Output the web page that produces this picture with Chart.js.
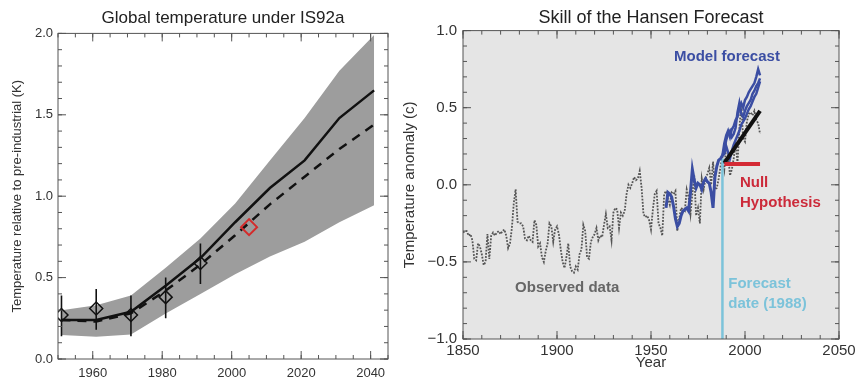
<!DOCTYPE html>
<html>
<head>
<meta charset="utf-8">
<script src="https://cdn.jsdelivr.net/npm/chart.js@4.4.1/dist/chart.umd.min.js"></script>
<style>
  body { margin: 0; background: #fff; }
  #wrap { position: relative; width: 855px; height: 385px; overflow: hidden; }
  canvas { position: absolute; top: 0; }
</style>
</head>
<body>
<div id="wrap">
  <canvas id="left" width="398" height="385" style="left:0"></canvas>
  <canvas id="right" width="457" height="385" style="left:398px"></canvas>
</div>
<script>
// --- left panel: IS92a projection, decadal values ---
const projYears  = [1951, 1961, 1971, 1981, 1991, 2001, 2011, 2021, 2031, 2041];
const bandHigh   = [0.30, 0.33, 0.39, 0.56, 0.74, 0.955, 1.22, 1.48, 1.77, 1.99];
const bandLow    = [0.147, 0.137, 0.15, 0.28, 0.40, 0.52, 0.63, 0.72, 0.84, 0.945];
const solidLine  = [0.24, 0.24, 0.29, 0.45, 0.62, 0.84, 1.05, 1.22, 1.48, 1.65];
const dashedLine = [0.24, 0.23, 0.28, 0.42, 0.58, 0.76, 0.95, 1.12, 1.29, 1.44];

// decadal observations with error bars
const obsYears = [1951, 1961, 1971, 1981, 1991];
const obsMean  = [0.27, 0.31, 0.27, 0.38, 0.59];
const obsLow   = [0.14, 0.18, 0.14, 0.25, 0.46];
const obsHigh  = [0.39, 0.43, 0.39, 0.50, 0.71];

// recent value (red diamond)
const recentYear  = [2005];
const recentValue = [0.81];

const leftXTicks = [1960, 1980, 2000, 2020, 2040];

// --- right panel: skill of the Hansen forecast ---
const observedStart = 1850;
const observed = [
  -0.31, -0.30, -0.30, -0.33, -0.32, -0.36, -0.48, -0.49, -0.38, -0.40,
  -0.45, -0.52, -0.50, -0.32, -0.48, -0.33, -0.31, -0.33, -0.31, -0.30,
  -0.32, -0.30, -0.29, -0.33, -0.41, -0.38, -0.28, -0.12, -0.03, -0.24,
  -0.25, -0.25, -0.27, -0.35, -0.36, -0.33, -0.36, -0.37, -0.23, -0.26,
  -0.40, -0.38, -0.47, -0.50, -0.43, -0.38, -0.25, -0.27, -0.37, -0.29,
  -0.27, -0.32, -0.42, -0.50, -0.54, -0.47, -0.38, -0.53, -0.56, -0.57,
  -0.53, -0.55, -0.45, -0.42, -0.26, -0.30, -0.47, -0.48, -0.37, -0.34,
  -0.32, -0.28, -0.36, -0.33, -0.34, -0.26, -0.19, -0.28, -0.27, -0.36,
  -0.18, -0.15, -0.16, -0.28, -0.18, -0.20, -0.17, -0.06, 0.00, -0.02,
  0.01, 0.05, 0.03, 0.04, 0.09, -0.02, -0.19, -0.21, -0.20, -0.23,
  -0.29, -0.16, -0.06, -0.04, -0.25, -0.28, -0.33, -0.06, -0.04, -0.09,
  -0.13, -0.05, -0.06, -0.04, -0.30, -0.22, -0.15, -0.16, -0.17, -0.03,
  -0.08, -0.19, -0.06, 0.06, -0.20, -0.15, -0.25, 0.04, -0.03, 0.04,
  0.07, 0.11, 0.00, 0.15, -0.03, -0.02, 0.04, 0.12, 0.18, 0.10,
  0.25, 0.21, 0.06, 0.10, 0.17, 0.28, 0.14, 0.36, 0.53, 0.30,
  0.28, 0.41, 0.46, 0.47, 0.45, 0.48, 0.42, 0.40, 0.33
];

const hindcastStart = 1958;
const hindcast = [
  -0.15, -0.05, -0.06, -0.08, -0.14, -0.22, -0.27, -0.25, -0.20, -0.17,
  -0.16, -0.15, -0.17, -0.05, 0.10, 0.03, -0.02, 0.01, 0.00, -0.03,
  0.02, 0.04, 0.02, 0.01, -0.05, -0.15, 0.05, 0.12, 0.16, 0.17, 0.19
];

const scenarioStart = 1988;
const scenarioA = [0.19, 0.27, 0.32, 0.35, 0.31, 0.36, 0.38, 0.42, 0.44, 0.50, 0.53,
                   0.50, 0.55, 0.57, 0.60, 0.62, 0.64, 0.66, 0.70, 0.75, 0.71];
const scenarioB = [0.19, 0.23, 0.29, 0.33, 0.35, 0.31, 0.33, 0.37, 0.47, 0.53, 0.46,
                   0.44, 0.48, 0.51, 0.53, 0.55, 0.59, 0.61, 0.64, 0.66, 0.69];
const scenarioC = [0.19, 0.20, 0.25, 0.21, 0.17, 0.22, 0.26, 0.29, 0.32, 0.35, 0.39,
                   0.41, 0.43, 0.46, 0.49, 0.51, 0.54, 0.57, 0.59, 0.63, 0.67];

const trendYears  = [1989, 2008];
const trendValues = [0.14, 0.48];
const nullYears   = [1989, 2008];
const nullValues  = [0.135, 0.135];
const forecastYears  = [1988, 1988];
const forecastValues = [-1.0, 0.17];

Chart.defaults.font.family = '"Liberation Sans", Arial, Helvetica, sans-serif';
Chart.defaults.color = '#333';

// helpers
function pts(xs, ys) {
  return xs.map((x, i) => ({ x: x, y: ys[i] }));
}
function series(start, vals) {
  return vals.map((v, i) => ({ x: start + i, y: v }));
}
function minorValues(min, max, step) {
  const out = [];
  const n0 = Math.ceil(min / step - 1e-9);
  const n1 = Math.floor(max / step + 1e-9);
  for (let n = n0; n <= n1; n++) out.push(n * step);
  return out;
}
// fixed axis box, no label overhang padding
function fixSize(prop, size) {
  return s => {
    s[prop] = size;
    s.paddingLeft = s.paddingRight = s.paddingTop = s.paddingBottom = 0;
  };
}

// frame with inward ticks on all four sides
const framePlugin = {
  id: 'frame',
  beforeDraw(chart, args, opts) {
    if (!opts.fill) return;
    const { ctx, chartArea: a } = chart;
    ctx.save();
    ctx.fillStyle = opts.fill;
    ctx.fillRect(a.left, a.top, a.right - a.left, a.bottom - a.top);
    ctx.restore();
  },
  afterDraw(chart, args, opts) {
    const { ctx, chartArea: a, scales: { x, y } } = chart;
    ctx.save();
    ctx.strokeStyle = '#555';
    ctx.lineWidth = 1;
    ctx.strokeRect(a.left, a.top, a.right - a.left, a.bottom - a.top);
    const xs = (len, vals) => vals.forEach(v => {
      const p = x.getPixelForValue(v);
      ctx.beginPath();
      ctx.moveTo(p, a.bottom); ctx.lineTo(p, a.bottom - len);
      ctx.moveTo(p, a.top); ctx.lineTo(p, a.top + len);
      ctx.stroke();
    });
    const ys = (len, vals) => vals.forEach(v => {
      const p = y.getPixelForValue(v);
      ctx.beginPath();
      ctx.moveTo(a.left, p); ctx.lineTo(a.left + len, p);
      ctx.moveTo(a.right, p); ctx.lineTo(a.right - len, p);
      ctx.stroke();
    });
    xs(4, minorValues(x.min, x.max, opts.xMinor));
    ys(4, minorValues(y.min, y.max, opts.yMinor));
    xs(8, x.ticks.map(t => t.value));
    ys(8, y.ticks.map(t => t.value));
    ctx.restore();
  }
};

// text labels placed in data coordinates
const notesPlugin = {
  id: 'notes',
  afterDatasetsDraw(chart, args, opts) {
    const { ctx, scales: { x, y } } = chart;
    ctx.save();
    ctx.font = 'bold 15px "Liberation Sans", Arial, sans-serif';
    ctx.textBaseline = 'middle';
    (opts.items || []).forEach(n => {
      ctx.fillStyle = n.color;
      ctx.textAlign = n.align || 'left';
      ctx.fillText(n.text, x.getPixelForValue(n.x), y.getPixelForValue(n.y));
    });
    ctx.restore();
  }
};

// error bar segments, broken by null gaps
const errorBars = [];
obsYears.forEach((yr, i) => {
  errorBars.push({ x: yr, y: obsLow[i] }, { x: yr, y: obsHigh[i] }, { x: yr, y: null });
});

const noGrid = { display: false, drawTicks: false };

new Chart(document.getElementById('left'), {
  type: 'line',
  data: {
    datasets: [
      { data: pts(recentYear, recentValue), showLine: false, pointStyle: 'rectRot',
        pointRadius: 8, pointBorderWidth: 2, pointBorderColor: '#d42a2a',
        pointBackgroundColor: 'rgba(0,0,0,0)', order: 1 },
      { data: pts(obsYears, obsMean), showLine: false, pointStyle: 'rectRot',
        pointRadius: 6.5, pointBorderWidth: 1.5, pointBorderColor: '#111',
        pointBackgroundColor: 'rgba(0,0,0,0)', order: 2 },
      { data: errorBars, borderColor: '#111', borderWidth: 1.6, pointRadius: 0,
        spanGaps: false, order: 3 },
      { data: pts(projYears, dashedLine), borderColor: '#111', borderWidth: 2.5,
        borderDash: [9, 7], pointRadius: 0, order: 4 },
      { data: pts(projYears, solidLine), borderColor: '#111', borderWidth: 2.5,
        pointRadius: 0, order: 5 },
      { data: pts(projYears, bandHigh), borderWidth: 0, pointRadius: 0,
        fill: '+1', backgroundColor: '#9d9d9d', order: 10 },
      { data: pts(projYears, bandLow), borderWidth: 0, pointRadius: 0, order: 11 }
    ]
  },
  options: {
    responsive: false,
    animation: false,
    layout: { padding: { left: 0, right: 2, top: 0, bottom: 0 } },
    plugins: {
      legend: { display: false },
      tooltip: { enabled: false },
      title: {
        display: true, text: 'Global temperature under IS92a', fullSize: false,
        color: '#222', font: { size: 17, weight: 'normal' },
        padding: { top: 8, bottom: 5 }
      },
      frame: { xMinor: 5, yMinor: 0.1 }
    },
    scales: {
      x: {
        type: 'linear', min: 1950, max: 2045,
        grid: noGrid, border: { display: false },
        afterBuildTicks: s => { s.ticks = leftXTicks.map(v => ({ value: v })); },
        afterFit: fixSize('height', 26),
        ticks: { font: { size: 13 }, padding: 7, color: '#333',
                 maxRotation: 0, callback: v => String(v) }
      },
      y: {
        min: 0, max: 2,
        grid: noGrid, border: { display: false },
        afterFit: fixSize('width', 58),
        ticks: { stepSize: 0.5, font: { size: 13 }, padding: 5, color: '#333',
                 callback: v => v.toFixed(1) },
        title: { display: true, text: 'Temperature relative to pre-industrial (K)',
                 font: { size: 13 }, color: '#333', padding: { top: 10, bottom: 0 } }
      }
    }
  },
  plugins: [framePlugin]
});

const blue = '#3b4ea3';
const rightNotes = [
  { text: 'Model forecast', x: 1990.4, y: 0.83, color: blue, align: 'center' },
  { text: 'Null', x: 1997.3, y: 0.013, color: '#cc2a3a' },
  { text: 'Hypothesis', x: 1997.3, y: -0.12, color: '#cc2a3a' },
  { text: 'Forecast', x: 1991.1, y: -0.64, color: '#7cc3da' },
  { text: 'date (1988)', x: 1991.1, y: -0.775, color: '#7cc3da' },
  { text: 'Observed data', x: 1877.7, y: -0.667, color: '#666' }
];

new Chart(document.getElementById('right'), {
  type: 'line',
  data: {
    datasets: [
      { data: pts(nullYears, nullValues), borderColor: '#d42a35', borderWidth: 4,
        pointRadius: 0, order: 1 },
      { data: pts(trendYears, trendValues), borderColor: '#111', borderWidth: 4,
        pointRadius: 0, order: 2 },
      { data: series(scenarioStart, scenarioA), borderColor: blue, borderWidth: 2.5,
        pointRadius: 0, order: 3 },
      { data: series(scenarioStart, scenarioB), borderColor: blue, borderWidth: 2.5,
        pointRadius: 0, order: 3 },
      { data: series(scenarioStart, scenarioC), borderColor: blue, borderWidth: 2.5,
        pointRadius: 0, order: 3 },
      { data: series(hindcastStart, hindcast), borderColor: blue, borderWidth: 3,
        pointRadius: 0, order: 4 },
      { data: pts(forecastYears, forecastValues), borderColor: '#7cc3da', borderWidth: 2.5,
        pointRadius: 0, order: 5 },
      { data: series(observedStart, observed), borderColor: '#555', borderWidth: 1.8,
        borderDash: [1.8, 1.4], pointRadius: 0, order: 6 }
    ]
  },
  options: {
    responsive: false,
    animation: false,
    layout: { padding: { left: 0, right: 16, top: 0, bottom: 0 } },
    plugins: {
      legend: { display: false },
      tooltip: { enabled: false },
      title: {
        display: true, text: 'Skill of the Hansen Forecast', fullSize: false,
        color: '#222', font: { size: 18, weight: 'normal' },
        padding: { top: 7, bottom: 2 }
      },
      frame: { fill: '#e5e5e5', xMinor: 10, yMinor: 0.1 },
      notes: { items: rightNotes }
    },
    scales: {
      x: {
        type: 'linear', min: 1850, max: 2050,
        grid: noGrid, border: { display: false },
        afterFit: fixSize('height', 46),
        ticks: { stepSize: 50, font: { size: 15 }, padding: 3, color: '#333',
                 maxRotation: 0, callback: v => String(v) },
        title: { display: true, text: 'Year', font: { size: 15 }, color: '#333',
                 padding: { top: 0, bottom: 13 } }
      },
      y: {
        min: -1, max: 1,
        grid: noGrid, border: { display: false },
        afterFit: fixSize('width', 65),
        ticks: { stepSize: 0.5, font: { size: 15 }, padding: 6, color: '#333',
                 callback: v => (v < 0 ? '\u2212' : '') + Math.abs(v).toFixed(1) },
        title: { display: true, text: 'Temperature anomaly (c)',
                 font: { size: 15 }, color: '#333', padding: { top: 3, bottom: 0 } }
      }
    }
  },
  plugins: [framePlugin, notesPlugin]
});
</script>
</body>
</html>
